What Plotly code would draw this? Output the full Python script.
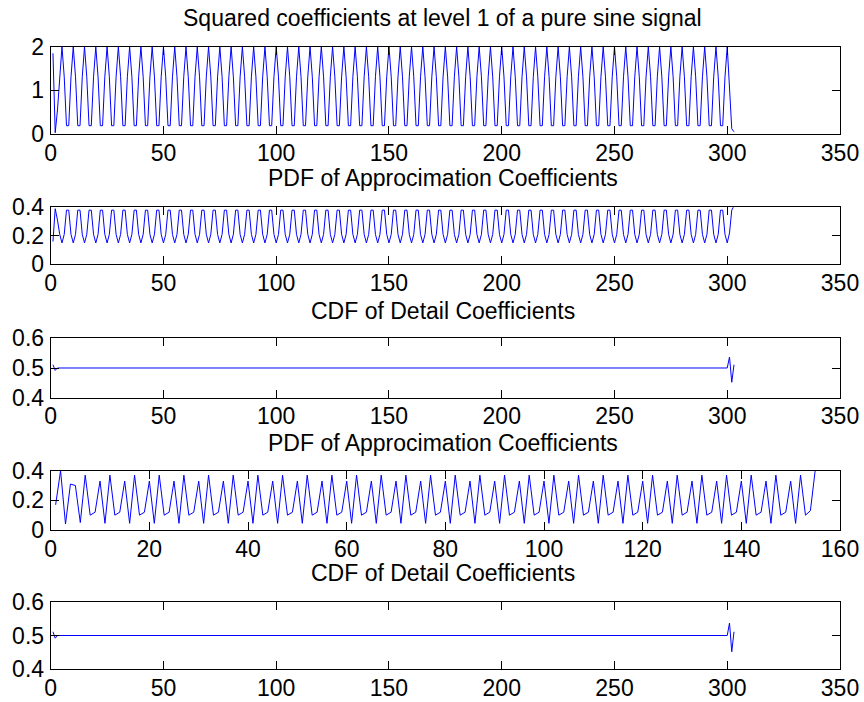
import plotly.graph_objects as go

# ---------------- data ----------------
# Panel 1: squared approximation coefficients, level 1 (x = 1..303)
sq_coef = [
    1.85, 0.03, 0.55, 1.30, 2.00,                                  # 1-5
    1.31, 0.19, 0.19, 1.31, 2.00, 1.31, 0.19, 0.19, 1.31, 2.00,    # 6-15
    1.31, 0.19, 0.19, 1.31, 2.00, 1.31, 0.19, 0.19, 1.31, 2.00,    # 16-25
    1.31, 0.19, 0.19, 1.31, 2.00, 1.31, 0.19, 0.19, 1.31, 2.00,    # 26-35
    1.31, 0.19, 0.19, 1.31, 2.00, 1.31, 0.19, 0.19, 1.31, 2.00,    # 36-45
    1.31, 0.19, 0.19, 1.31, 2.00, 1.31, 0.19, 0.19, 1.31, 2.00,    # 46-55
    1.31, 0.19, 0.19, 1.31, 2.00, 1.31, 0.19, 0.19, 1.31, 2.00,    # 56-65
    1.31, 0.19, 0.19, 1.31, 2.00, 1.31, 0.19, 0.19, 1.31, 2.00,    # 66-75
    1.31, 0.19, 0.19, 1.31, 2.00, 1.31, 0.19, 0.19, 1.31, 2.00,    # 76-85
    1.31, 0.19, 0.19, 1.31, 2.00, 1.31, 0.19, 0.19, 1.31, 2.00,    # 86-95
    1.31, 0.19, 0.19, 1.31, 2.00, 1.31, 0.19, 0.19, 1.31, 2.00,    # 96-105
    1.31, 0.19, 0.19, 1.31, 2.00, 1.31, 0.19, 0.19, 1.31, 2.00,    # 106-115
    1.31, 0.19, 0.19, 1.31, 2.00, 1.31, 0.19, 0.19, 1.31, 2.00,    # 116-125
    1.31, 0.19, 0.19, 1.31, 2.00, 1.31, 0.19, 0.19, 1.31, 2.00,    # 126-135
    1.31, 0.19, 0.19, 1.31, 2.00, 1.31, 0.19, 0.19, 1.31, 2.00,    # 136-145
    1.31, 0.19, 0.19, 1.31, 2.00, 1.31, 0.19, 0.19, 1.31, 2.00,    # 146-155
    1.31, 0.19, 0.19, 1.31, 2.00, 1.31, 0.19, 0.19, 1.31, 2.00,    # 156-165
    1.31, 0.19, 0.19, 1.31, 2.00, 1.31, 0.19, 0.19, 1.31, 2.00,    # 166-175
    1.31, 0.19, 0.19, 1.31, 2.00, 1.31, 0.19, 0.19, 1.31, 2.00,    # 176-185
    1.31, 0.19, 0.19, 1.31, 2.00, 1.31, 0.19, 0.19, 1.31, 2.00,    # 186-195
    1.31, 0.19, 0.19, 1.31, 2.00, 1.31, 0.19, 0.19, 1.31, 2.00,    # 196-205
    1.31, 0.19, 0.19, 1.31, 2.00, 1.31, 0.19, 0.19, 1.31, 2.00,    # 206-215
    1.31, 0.19, 0.19, 1.31, 2.00, 1.31, 0.19, 0.19, 1.31, 2.00,    # 216-225
    1.31, 0.19, 0.19, 1.31, 2.00, 1.31, 0.19, 0.19, 1.31, 2.00,    # 226-235
    1.31, 0.19, 0.19, 1.31, 2.00, 1.31, 0.19, 0.19, 1.31, 2.00,    # 236-245
    1.31, 0.19, 0.19, 1.31, 2.00, 1.31, 0.19, 0.19, 1.31, 2.00,    # 246-255
    1.31, 0.19, 0.19, 1.31, 2.00, 1.31, 0.19, 0.19, 1.31, 2.00,    # 256-265
    1.31, 0.19, 0.19, 1.31, 2.00, 1.31, 0.19, 0.19, 1.31, 2.00,    # 266-275
    1.31, 0.19, 0.19, 1.31, 2.00, 1.31, 0.19, 0.19, 1.31, 2.00,    # 276-285
    1.31, 0.19, 0.19, 1.31, 2.00, 1.31, 0.19, 0.19, 1.31, 2.00,    # 286-295
    1.31, 0.19, 0.19, 1.31, 2.00,                                  # 296-300
    1.10, 0.12, 0.05,                                              # 301-303
]

# Panel 2: PDF of approximation coefficients (x = 1..303)
pdf_approx_1 = [
    0.16, 0.39, 0.31, 0.21, 0.15,                                  # 1-5
    0.21, 0.38, 0.38, 0.21, 0.15, 0.21, 0.38, 0.38, 0.21, 0.15,    # 6-15
    0.21, 0.38, 0.38, 0.21, 0.15, 0.21, 0.38, 0.38, 0.21, 0.15,    # 16-25
    0.21, 0.38, 0.38, 0.21, 0.15, 0.21, 0.38, 0.38, 0.21, 0.15,    # 26-35
    0.21, 0.38, 0.38, 0.21, 0.15, 0.21, 0.38, 0.38, 0.21, 0.15,    # 36-45
    0.21, 0.38, 0.38, 0.21, 0.15, 0.21, 0.38, 0.38, 0.21, 0.15,    # 46-55
    0.21, 0.38, 0.38, 0.21, 0.15, 0.21, 0.38, 0.38, 0.21, 0.15,    # 56-65
    0.21, 0.38, 0.38, 0.21, 0.15, 0.21, 0.38, 0.38, 0.21, 0.15,    # 66-75
    0.21, 0.38, 0.38, 0.21, 0.15, 0.21, 0.38, 0.38, 0.21, 0.15,    # 76-85
    0.21, 0.38, 0.38, 0.21, 0.15, 0.21, 0.38, 0.38, 0.21, 0.15,    # 86-95
    0.21, 0.38, 0.38, 0.21, 0.15, 0.21, 0.38, 0.38, 0.21, 0.15,    # 96-105
    0.21, 0.38, 0.38, 0.21, 0.15, 0.21, 0.38, 0.38, 0.21, 0.15,    # 106-115
    0.21, 0.38, 0.38, 0.21, 0.15, 0.21, 0.38, 0.38, 0.21, 0.15,    # 116-125
    0.21, 0.38, 0.38, 0.21, 0.15, 0.21, 0.38, 0.38, 0.21, 0.15,    # 126-135
    0.21, 0.38, 0.38, 0.21, 0.15, 0.21, 0.38, 0.38, 0.21, 0.15,    # 136-145
    0.21, 0.38, 0.38, 0.21, 0.15, 0.21, 0.38, 0.38, 0.21, 0.15,    # 146-155
    0.21, 0.38, 0.38, 0.21, 0.15, 0.21, 0.38, 0.38, 0.21, 0.15,    # 156-165
    0.21, 0.38, 0.38, 0.21, 0.15, 0.21, 0.38, 0.38, 0.21, 0.15,    # 166-175
    0.21, 0.38, 0.38, 0.21, 0.15, 0.21, 0.38, 0.38, 0.21, 0.15,    # 176-185
    0.21, 0.38, 0.38, 0.21, 0.15, 0.21, 0.38, 0.38, 0.21, 0.15,    # 186-195
    0.21, 0.38, 0.38, 0.21, 0.15, 0.21, 0.38, 0.38, 0.21, 0.15,    # 196-205
    0.21, 0.38, 0.38, 0.21, 0.15, 0.21, 0.38, 0.38, 0.21, 0.15,    # 206-215
    0.21, 0.38, 0.38, 0.21, 0.15, 0.21, 0.38, 0.38, 0.21, 0.15,    # 216-225
    0.21, 0.38, 0.38, 0.21, 0.15, 0.21, 0.38, 0.38, 0.21, 0.15,    # 226-235
    0.21, 0.38, 0.38, 0.21, 0.15, 0.21, 0.38, 0.38, 0.21, 0.15,    # 236-245
    0.21, 0.38, 0.38, 0.21, 0.15, 0.21, 0.38, 0.38, 0.21, 0.15,    # 246-255
    0.21, 0.38, 0.38, 0.21, 0.15, 0.21, 0.38, 0.38, 0.21, 0.15,    # 256-265
    0.21, 0.38, 0.38, 0.21, 0.15, 0.21, 0.38, 0.38, 0.21, 0.15,    # 266-275
    0.21, 0.38, 0.38, 0.21, 0.15, 0.21, 0.38, 0.38, 0.21, 0.15,    # 276-285
    0.21, 0.38, 0.38, 0.21, 0.15, 0.21, 0.38, 0.38, 0.21, 0.15,    # 286-295
    0.21, 0.38, 0.38, 0.21, 0.15,                                  # 296-300
    0.22, 0.38, 0.41,                                              # 301-303
]

# Panels 3 and 5: CDF of detail coefficients (x = 1..303)
cdf_detail_1 = [
    0.511, 0.492,                                                  # 1-2
    0.5, 0.5, 0.5, 0.5, 0.5, 0.5, 0.5, 0.5, 0.5, 0.5,              # 3-12
    0.5, 0.5, 0.5, 0.5, 0.5, 0.5, 0.5, 0.5, 0.5, 0.5,              # 13-22
    0.5, 0.5, 0.5, 0.5, 0.5, 0.5, 0.5, 0.5, 0.5, 0.5,              # 23-32
    0.5, 0.5, 0.5, 0.5, 0.5, 0.5, 0.5, 0.5, 0.5, 0.5,              # 33-42
    0.5, 0.5, 0.5, 0.5, 0.5, 0.5, 0.5, 0.5, 0.5, 0.5,              # 43-52
    0.5, 0.5, 0.5, 0.5, 0.5, 0.5, 0.5, 0.5, 0.5, 0.5,              # 53-62
    0.5, 0.5, 0.5, 0.5, 0.5, 0.5, 0.5, 0.5, 0.5, 0.5,              # 63-72
    0.5, 0.5, 0.5, 0.5, 0.5, 0.5, 0.5, 0.5, 0.5, 0.5,              # 73-82
    0.5, 0.5, 0.5, 0.5, 0.5, 0.5, 0.5, 0.5, 0.5, 0.5,              # 83-92
    0.5, 0.5, 0.5, 0.5, 0.5, 0.5, 0.5, 0.5, 0.5, 0.5,              # 93-102
    0.5, 0.5, 0.5, 0.5, 0.5, 0.5, 0.5, 0.5, 0.5, 0.5,              # 103-112
    0.5, 0.5, 0.5, 0.5, 0.5, 0.5, 0.5, 0.5, 0.5, 0.5,              # 113-122
    0.5, 0.5, 0.5, 0.5, 0.5, 0.5, 0.5, 0.5, 0.5, 0.5,              # 123-132
    0.5, 0.5, 0.5, 0.5, 0.5, 0.5, 0.5, 0.5, 0.5, 0.5,              # 133-142
    0.5, 0.5, 0.5, 0.5, 0.5, 0.5, 0.5, 0.5, 0.5, 0.5,              # 143-152
    0.5, 0.5, 0.5, 0.5, 0.5, 0.5, 0.5, 0.5, 0.5, 0.5,              # 153-162
    0.5, 0.5, 0.5, 0.5, 0.5, 0.5, 0.5, 0.5, 0.5, 0.5,              # 163-172
    0.5, 0.5, 0.5, 0.5, 0.5, 0.5, 0.5, 0.5, 0.5, 0.5,              # 173-182
    0.5, 0.5, 0.5, 0.5, 0.5, 0.5, 0.5, 0.5, 0.5, 0.5,              # 183-192
    0.5, 0.5, 0.5, 0.5, 0.5, 0.5, 0.5, 0.5, 0.5, 0.5,              # 193-202
    0.5, 0.5, 0.5, 0.5, 0.5, 0.5, 0.5, 0.5, 0.5, 0.5,              # 203-212
    0.5, 0.5, 0.5, 0.5, 0.5, 0.5, 0.5, 0.5, 0.5, 0.5,              # 213-222
    0.5, 0.5, 0.5, 0.5, 0.5, 0.5, 0.5, 0.5, 0.5, 0.5,              # 223-232
    0.5, 0.5, 0.5, 0.5, 0.5, 0.5, 0.5, 0.5, 0.5, 0.5,              # 233-242
    0.5, 0.5, 0.5, 0.5, 0.5, 0.5, 0.5, 0.5, 0.5, 0.5,              # 243-252
    0.5, 0.5, 0.5, 0.5, 0.5, 0.5, 0.5, 0.5, 0.5, 0.5,              # 253-262
    0.5, 0.5, 0.5, 0.5, 0.5, 0.5, 0.5, 0.5, 0.5, 0.5,              # 263-272
    0.5, 0.5, 0.5, 0.5, 0.5, 0.5, 0.5, 0.5, 0.5, 0.5,              # 273-282
    0.5, 0.5, 0.5, 0.5, 0.5, 0.5, 0.5, 0.5, 0.5, 0.5,              # 283-292
    0.5, 0.5, 0.5, 0.5, 0.5, 0.5, 0.5, 0.5,                        # 293-300
    0.537, 0.452, 0.511,                                           # 301-303
]
cdf_detail_2 = list(cdf_detail_1)

# Panel 4: PDF of approximation coefficients, level 2 (x = 1..155)
pdf_approx_2 = [
    0.17, 0.40, 0.04, 0.31, 0.30, 0.05,                            # 1-6
    0.37, 0.10, 0.12, 0.33, 0.045, 0.37, 0.10, 0.12, 0.33, 0.045,  # 7-16
    0.37, 0.10, 0.12, 0.33, 0.045, 0.37, 0.10, 0.12, 0.33, 0.045,  # 17-26
    0.37, 0.10, 0.12, 0.33, 0.045, 0.37, 0.10, 0.12, 0.33, 0.045,  # 27-36
    0.37, 0.10, 0.12, 0.33, 0.045, 0.37, 0.10, 0.12, 0.33, 0.045,  # 37-46
    0.37, 0.10, 0.12, 0.33, 0.045, 0.37, 0.10, 0.12, 0.33, 0.045,  # 47-56
    0.37, 0.10, 0.12, 0.33, 0.045, 0.37, 0.10, 0.12, 0.33, 0.045,  # 57-66
    0.37, 0.10, 0.12, 0.33, 0.045, 0.37, 0.10, 0.12, 0.33, 0.045,  # 67-76
    0.37, 0.10, 0.12, 0.33, 0.045, 0.37, 0.10, 0.12, 0.33, 0.045,  # 77-86
    0.37, 0.10, 0.12, 0.33, 0.045, 0.37, 0.10, 0.12, 0.33, 0.045,  # 87-96
    0.37, 0.10, 0.12, 0.33, 0.045, 0.37, 0.10, 0.12, 0.33, 0.045,  # 97-106
    0.37, 0.10, 0.12, 0.33, 0.045, 0.37, 0.10, 0.12, 0.33, 0.045,  # 107-116
    0.37, 0.10, 0.12, 0.33, 0.045, 0.37, 0.10, 0.12, 0.33, 0.045,  # 117-126
    0.37, 0.10, 0.12, 0.33, 0.045, 0.37, 0.10, 0.12, 0.33, 0.045,  # 127-136
    0.37, 0.10, 0.12, 0.33, 0.045, 0.37, 0.10, 0.12, 0.33, 0.045,  # 137-146
    0.37, 0.10, 0.12, 0.33, 0.045,                                 # 147-151
    0.37, 0.10, 0.13, 0.41,                                        # 152-155
]

titles = [
    "Squared coefficients at level 1 of a pure sine signal",
    "PDF of Approcimation Coefficients",
    "CDF of Detail Coefficients",
    "PDF of Approcimation Coefficients",
    "CDF of Detail Coefficients",
]
series = [sq_coef, pdf_approx_1, cdf_detail_1, pdf_approx_2, cdf_detail_2]
x_ranges = [[0, 350], [0, 350], [0, 350], [0, 160], [0, 350]]
x_ticks = [
    [0, 50, 100, 150, 200, 250, 300, 350],
    [0, 50, 100, 150, 200, 250, 300, 350],
    [0, 50, 100, 150, 200, 250, 300, 350],
    [0, 20, 40, 60, 80, 100, 120, 140, 160],
    [0, 50, 100, 150, 200, 250, 300, 350],
]
y_ranges = [[0, 2], [0, 0.4], [0.4, 0.6], [0, 0.4], [0.4, 0.6]]
y_ticks = [[0, 1, 2], [0, 0.2, 0.4], [0.4, 0.5, 0.6], [0, 0.2, 0.4], [0.4, 0.5, 0.6]]

# ---------------- layout geometry (pixels) ----------------
W, H = 864, 702
x_left, x_right = 50.7, 840.0
panel_px = [(46.7, 134.0), (207.3, 264.3), (338.3, 397.7), (470.7, 530.0), (601.7, 669.3)]
title_center_px = [18.4, 177.5, 310.5, 443.3, 573.3]
title_x_px = 442.5

FONT = "Liberation Sans, Arial, Helvetica, sans-serif"
FS = 23

fig = go.Figure()
layout = dict(
    width=W, height=H,
    margin=dict(l=0, r=0, t=0, b=0, pad=0, autoexpand=False),
    paper_bgcolor="white", plot_bgcolor="white",
    showlegend=False,
    font=dict(family=FONT, size=FS, color="black"),
)
annotations = []
for i, (ys, title) in enumerate(zip(series, titles)):
    k = "" if i == 0 else str(i + 1)
    xs = list(range(1, len(ys) + 1))
    fig.add_trace(go.Scatter(
        x=xs, y=ys, mode="lines",
        line=dict(color="#0000FF", width=1),
        xaxis="x" + k, yaxis="y" + k, hoverinfo="skip",
    ))
    top, bot = panel_px[i]
    axis_common = dict(
        showline=True, linecolor="black", linewidth=1, mirror="ticks",
        ticks="inside", ticklen=8, tickwidth=1, tickcolor="black",
        showgrid=False, zeroline=False, automargin=False, fixedrange=True,
        tickfont=dict(family=FONT, size=FS, color="black"),
    )
    layout["xaxis" + k] = dict(
        domain=[x_left / W, x_right / W], anchor="y" + k,
        range=x_ranges[i], tickmode="array", tickvals=x_ticks[i],
        ticklabelstandoff=-2,
        **axis_common,
    )
    layout["yaxis" + k] = dict(
        domain=[1 - bot / H, 1 - top / H], anchor="x" + k,
        range=y_ranges[i], tickmode="array", tickvals=y_ticks[i],
        ticktext=[("%g" % v) for v in y_ticks[i]],
        ticklabelstandoff=1,
        **axis_common,
    )
    annotations.append(dict(
        text=title, xref="paper", yref="paper",
        x=title_x_px / W, y=1 - title_center_px[i] / H,
        xanchor="center", yanchor="middle", showarrow=False,
        font=dict(family=FONT, size=FS, color="black"),
    ))
layout["annotations"] = annotations
fig.update_layout(**layout)

fig.write_html("out.html")
